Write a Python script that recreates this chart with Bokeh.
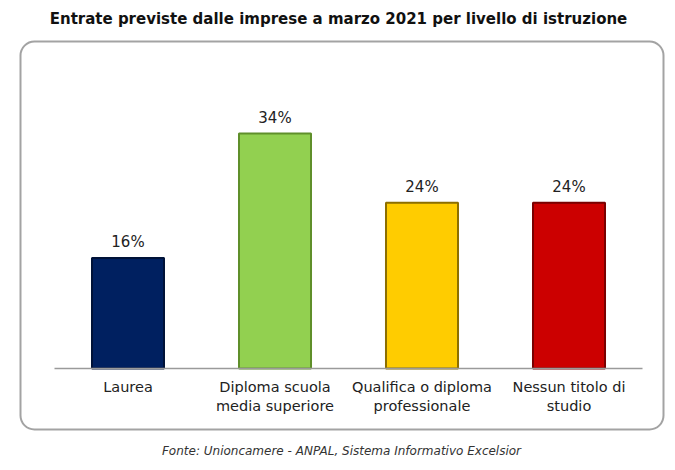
from bokeh.plotting import figure
from bokeh.models import BoxAnnotation, Label, Range1d, ColumnDataSource, LabelSet, FixedTicker, LinearAxis
from bokeh.core.properties import value
from bokeh.embed import file_html
from bokeh.resources import INLINE

categories = ["Laurea", "Diploma scuola\nmedia superiore", "Qualifica o diploma\nprofessionale", "Nessun titolo di\nstudio"]
values = [16, 34, 24, 24]
value_labels = ["16%", "34%", "24%", "24%"]
fill_colors = ["#002060", "#92d050", "#ffcc00", "#cc0000"]
edge_colors = ["#001238", "#5f8f2a", "#8c6e00", "#7a0000"]

title_text = "Entrate previste dalle imprese a marzo 2021 per livello di istruzione"
footer_text = "Fonte: Unioncamere - ANPAL, Sistema Informativo Excelsior"

W, H = 668, 462
PX_X = 147.0   # pixels per category
PX_Y = 6.91    # pixels per percent
BASE = 368     # baseline, px from top
AX_L, AX_R = 54, 642
pos = list(range(len(categories)))

p = figure(width=W, height=H,
           x_range=Range1d(-0.5 - AX_L / PX_X, len(categories) - 0.5 + (W - AX_R) / PX_X),
           y_range=Range1d(-(H - BASE) / PX_Y, BASE / PX_Y),
           output_backend="svg", toolbar_location=None,
           min_border=0, min_border_left=0, min_border_right=0, min_border_top=0, min_border_bottom=0,
           x_axis_location=None, y_axis_location=None)
p.outline_line_color = None
p.xgrid.visible = False
p.ygrid.visible = False
p.background_fill_color = "white"
p.border_fill_color = "white"

p.add_layout(BoxAnnotation(left=20, right=663, top=H - 41, bottom=H - 429, left_units="screen", right_units="screen",
                           top_units="screen", bottom_units="screen", fill_color=None, fill_alpha=0,
                           line_color="#a3a3a3", line_alpha=1.0, line_width=2, border_radius=14,
                           level="underlay"))

src = ColumnDataSource(dict(x=pos, top=values, fill=fill_colors, edge=edge_colors, lab=value_labels))
p.vbar(x="x", top="top", width=0.49, source=src, fill_color="fill", line_color="edge", line_width=2)

p.add_layout(LabelSet(x="x", y="top", text="lab", source=src, y_offset=7, text_align="center",
                      text_baseline="bottom", text_font=value("DejaVu Sans"), text_font_size="15px",
                      text_color="#222222"))

ax = LinearAxis(fixed_location=0, bounds=(-0.5, len(categories) - 0.5),
                ticker=FixedTicker(ticks=pos),
                major_label_overrides={i: c for i, c in zip(pos, categories)})
ax.axis_line_color = "#9a9a9a"
ax.axis_line_width = 1.5
ax.major_tick_line_color = None
ax.minor_tick_line_color = None
ax.major_label_standoff = 4
ax.major_label_text_font = "DejaVu Sans"
ax.major_label_text_font_size = "14.5px"
ax.major_label_text_color = "#222222"
p.add_layout(ax, "below")

p.add_layout(Label(x=338, y=H - 18, x_units="screen", y_units="screen", text=title_text, text_align="center",
                   text_baseline="middle", text_font="DejaVu Sans", text_font_style="bold",
                   text_font_size="15px", text_color="#111111"))
p.add_layout(Label(x=341, y=H - 450, x_units="screen", y_units="screen", text=footer_text, text_align="center",
                   text_baseline="middle", text_font="DejaVu Sans", text_font_style="italic",
                   text_font_size="12px", text_color="#333333"))

open("out.html", "w").write(file_html(p, INLINE))
